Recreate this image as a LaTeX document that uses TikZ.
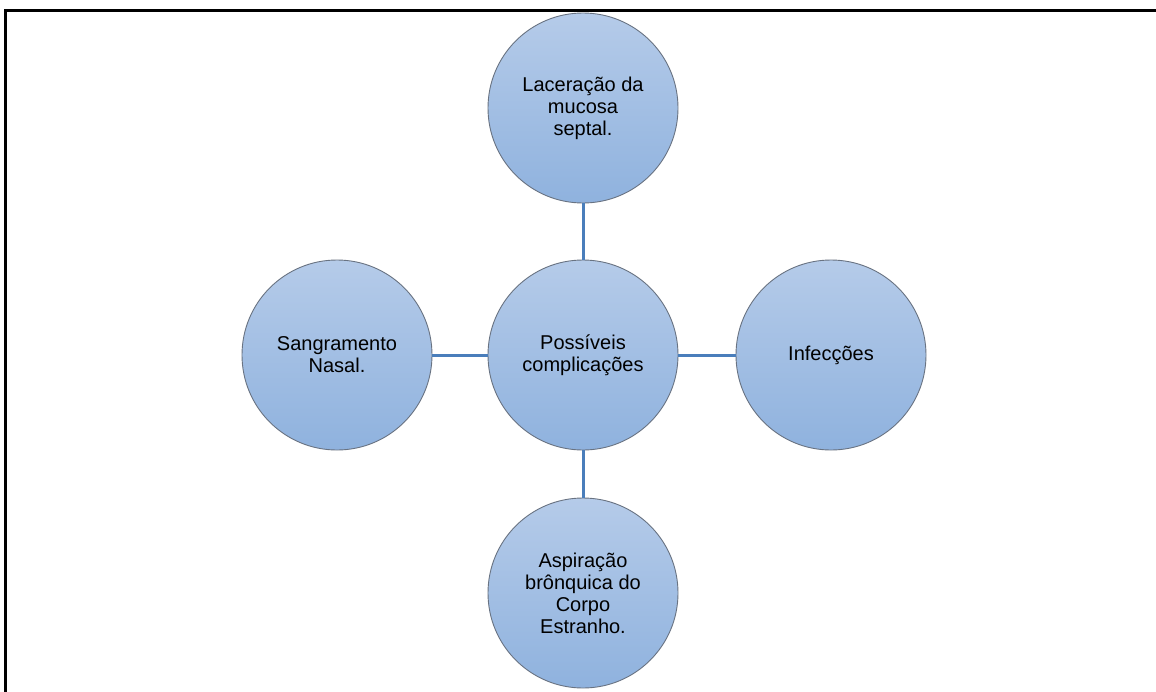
\documentclass[tikz,border=0pt]{standalone}
\usepackage{fontspec}
\setmainfont{Liberation Sans}
\definecolor{circtop}{RGB}{181,203,233}
\definecolor{circbot}{RGB}{143,178,222}
\definecolor{circline}{RGB}{105,115,130}
\definecolor{linkblue}{RGB}{74,126,187}
\begin{document}
\begin{tikzpicture}[x=1pt, y=-1pt, every node/.style={circle, draw=circline, line width=0.9pt, minimum size=190pt, inner sep=0pt, top color=circtop, bottom color=circbot, align=center, font=\fontsize{20}{22}\selectfont}, link/.style={draw=linkblue, line width=3pt}]
        \useasboundingbox (0,0) rectangle (1156,691);
        \fill[white] (0,0) rectangle (1156,691);
        \draw[line width=3.4pt] (5.7,760) -- (5.7,10.6) -- (1200,10.6);
        \node (0) at (583,355) {Possíveis\\complicações};
        \node (1) at (583,108) {Laceração da\\mucosa\\septal.};
        \node (2) at (831,355) {Infecções};
        \node (3) at (583,593) {Aspiração\\brônquica do\\Corpo\\Estranho.};
        \node (4) at (337,355) {Sangramento\\Nasal.};
        \draw[link] (0) -- (1);
        \draw[link] (0) -- (2);
        \draw[link] (0) -- (3);
        \draw[link] (0) -- (4);
    \end{tikzpicture}
\end{document}
